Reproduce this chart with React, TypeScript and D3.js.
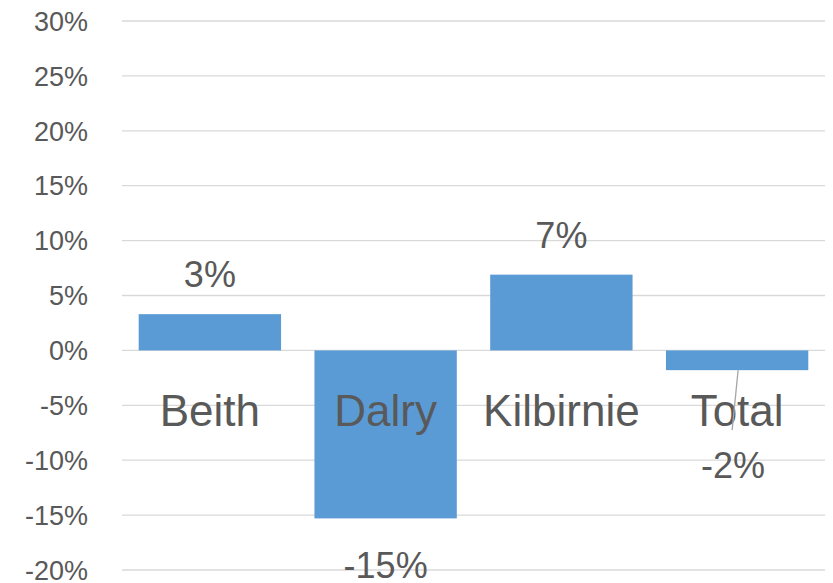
import { useEffect, useRef } from "react";
import * as d3 from "d3";

const categories = ["Beith", "Dalry", "Kilbirnie", "Total"];
const values = [0.033, -0.153, 0.069, -0.018];
const valueLabels = ["3%", "-15%", "7%", "-2%"];
const yTicks = [0.3, 0.25, 0.2, 0.15, 0.1, 0.05, 0, -0.05, -0.1, -0.15, -0.2];

const W = 833;
const H = 583;
const X0 = 122;
const X1 = 825;
const Y_TOP = 21;
const Y_BOT = 570;

const FONT = "'Liberation Sans', Arial, sans-serif";
const TEXT = "#595959";
const BAR = "#5B9BD5";
const GRID = "#d9d9d9";

export default function App() {
  const svgRef = useRef<SVGSVGElement | null>(null);

  useEffect(() => {
    if (!svgRef.current) return;
    const svg = d3.select(svgRef.current);
    svg.selectAll("*").remove();

    const x = d3.scaleBand<string>().domain(categories).range([X0, X1])
      .paddingInner(0.19).paddingOuter(0.095);
    const y = d3.scaleLinear().domain([-0.2, 0.3]).range([Y_BOT, Y_TOP]);

    svg.append("rect").attr("width", W).attr("height", H).attr("fill", "#fff");

    // gridlines
    svg.append("g").selectAll("line")
      .data(yTicks)
      .join("line")
      .attr("x1", X0).attr("x2", X1)
      .attr("y1", d => y(d)).attr("y2", d => y(d))
      .attr("stroke", GRID).attr("stroke-width", 1.3);

    // tick labels
    svg.append("g").selectAll("text")
      .data(yTicks)
      .join("text")
      .attr("x", X0 - 34)
      .attr("y", d => y(d))
      .attr("dy", "0.36em")
      .attr("text-anchor", "end")
      .attr("fill", TEXT)
      .attr("font-family", FONT)
      .attr("font-size", 27)
      .text(d => `${Math.round(d * 100)}%`);

    // bars
    svg.append("g").selectAll("rect")
      .data(categories)
      .join("rect")
      .attr("x", d => x(d)!)
      .attr("width", x.bandwidth())
      .attr("y", (_, i) => y(Math.max(0, values[i])))
      .attr("height", (_, i) => Math.abs(y(values[i]) - y(0)))
      .attr("fill", BAR);

    // category labels
    svg.append("g").selectAll("text")
      .data(categories)
      .join("text")
      .attr("x", d => x(d)! + x.bandwidth() / 2)
      .attr("y", y(0) + 76)
      .attr("text-anchor", "middle")
      .attr("fill", TEXT)
      .attr("font-family", FONT)
      .attr("font-size", 44)
      .text(d => d);

    // leader line for Total label
    const tc = x("Total")! + x.bandwidth() / 2;
    svg.append("line")
      .attr("x1", tc + 1).attr("y1", y(values[3]))
      .attr("x2", tc - 5).attr("y2", y(values[3]) + 60)
      .attr("stroke", "#a6a6a6").attr("stroke-width", 1.3);

    // value labels
    const offsets = [-27, 60, -27, 108];
    svg.append("g").selectAll("text")
      .data(categories)
      .join("text")
      .attr("x", (d, i) => x(d)! + x.bandwidth() / 2 + (i === 3 ? -4 : 0))
      .attr("y", (_, i) => y(values[i]) + offsets[i])
      .attr("text-anchor", "middle")
      .attr("fill", TEXT)
      .attr("font-family", FONT)
      .attr("font-size", 36)
      .text((_, i) => valueLabels[i]);
  }, []);

  return (
    <svg
      ref={svgRef}
      width={W}
      height={H}
      style={{ position: "absolute", left: 0, top: 0, display: "block" }}
    />
  );
}
